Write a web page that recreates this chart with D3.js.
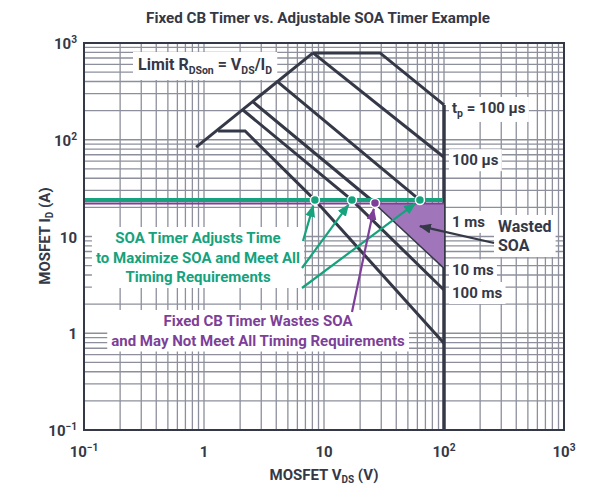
<!DOCTYPE html>
<html><head><meta charset="utf-8">
<script src="https://cdn.jsdelivr.net/npm/d3@7"></script>
<style>
body{margin:0;background:#fff}
svg{display:block}
text{font-family:Roboto,"Noto Sans",sans-serif;font-weight:700}
</style>
</head><body><svg id="c" width="602" height="489"></svg>
<script>
// ---------- data ----------
const xTickValues = [0.1, 1, 10, 100, 1000];
const xTickLabels = [["10","−1"],["1",""],["10",""],["10","2"],["10","3"]];
const yTickValues = [0.1, 1, 10, 100, 1000];
const yTickLabels = [["10","−1"],["1",""],["10",""],["10","2"],["10","3"]];

const rdsonLimit = [[0.86,84],[8.1,790]];
const curveA = [[8.1,790],[29.3,790],[100,229]];          // tp = 100 µs (top)
const curveB = [[8.1,790],[100,66]];                       // 100 µs
const curveC = [[4.14,395],[63,23.8],[100,15.2]];          // 1 ms
const curveD = [[2.56,246],[26.6,22.2],[100,4.8]];         // 10 ms
const curveE = [[2.11,203],[17.1,23.8],[100,2.8]];         // 100 ms
const curveF = [[1.31,123],[2.2,123],[8.4,23.8],[100,0.79]]; // DC
const curveLabels = ["100 µs","1 ms","10 ms","100 ms"];
const vdsMax = 100;
const soaTimerLimit = 23.8;   // green
const cbTimerLimit = 22.2;    // purple
const wastedArrowTarget = [63, 12.8];

// ---------- layout ----------
const svg = d3.select("#c");
const L=84,R=564,T=43,B=430;
const x = d3.scaleLog().domain([0.1,1000]).range([L,R]);
const y = d3.scaleLog().domain([0.1,1000]).range([B,T]);
const dark="#353846", grid="#8d909c", green="#15a27c", purple="#7d3f98", fillP="#a075ba";

// defs
const defs = svg.append("defs");
function marker(id,color){
  defs.append("marker").attr("id",id).attr("markerUnits","userSpaceOnUse")
    .attr("markerWidth",12).attr("markerHeight",10).attr("refX",11).attr("refY",5)
    .attr("orient","auto").append("path").attr("d","M0,0L12,5L0,10Z").attr("fill",color);
}
marker("mg",green); marker("mp",purple); marker("md",dark);

// title
svg.append("text").attr("x",318).attr("y",18).attr("text-anchor","middle")
  .attr("dominant-baseline","central").attr("font-size",15.2).attr("fill",dark)
  .text("Fixed CB Timer vs. Adjustable SOA Timer Example");

// grid
const gridVals=[];
for(let e=-1;e<3;e++) for(let k=1;k<10;k++) gridVals.push(k*Math.pow(10,e));
gridVals.push(1000);
const g = svg.append("g");
g.selectAll(".gx").data(gridVals).enter().append("line")
  .attr("x1",d=>x(d)).attr("x2",d=>x(d)).attr("y1",T).attr("y2",B)
  .attr("stroke",grid).attr("stroke-width",1.3);
g.selectAll(".gy").data(gridVals).enter().append("line")
  .attr("y1",d=>y(d)).attr("y2",d=>y(d)).attr("x1",L).attr("x2",R)
  .attr("stroke",grid).attr("stroke-width",1.3);

const line = d3.line().x(d=>x(d[0])).y(d=>y(d[1]));

// interpolate crossing of a curve with a current level (log space)
function crossing(curve, level){
  for(let i=0;i<curve.length-1;i++){
    const [v1,i1]=curve[i],[v2,i2]=curve[i+1];
    if((i1-level)*(i2-level)<=0 && i1!==i2){
      const t=(Math.log(level)-Math.log(i1))/(Math.log(i2)-Math.log(i1));
      return [Math.exp(Math.log(v1)+t*(Math.log(v2)-Math.log(v1))), level];
    }
  }
  return null;
}

// label layer (white boxes)
const labels = svg.append("g");
function boxed(textSel,pad){
  const bb=textSel.node().getBBox();
  labels.insert("rect",":first-child").attr("x",bb.x-pad[0]).attr("y",bb.y-pad[1])
    .attr("width",bb.width+2*pad[0]).attr("height",bb.height+2*pad[1]).attr("fill","#fff");
}

// curves
const curves=[curveA,curveB,curveC,curveD,curveE,curveF];
svg.append("g").selectAll("path").data(curves).enter().append("path")
  .attr("d",line).attr("fill","none").attr("stroke",dark).attr("stroke-width",3)
  .attr("stroke-linejoin","miter");
svg.append("path").attr("d",line(rdsonLimit)).attr("fill","none").attr("stroke",dark).attr("stroke-width",3);

// vds max vertical
svg.append("line").attr("x1",x(vdsMax)).attr("x2",x(vdsMax)).attr("y1",y(curveA[curveA.length-1][1])).attr("y2",B)
  .attr("stroke",dark).attr("stroke-width",3.5);

// wasted SOA fill
const pStart = crossing(curveD, cbTimerLimit);
const wasted = [pStart,[vdsMax,cbTimerLimit],curveD[curveD.length-1]];
svg.append("path").attr("d",line(wasted)+"Z").attr("fill",fillP);

// timer limit lines
svg.append("line").attr("x1",x(0.1)).attr("x2",x(vdsMax)).attr("y1",y(cbTimerLimit)+0.5).attr("y2",y(cbTimerLimit)+0.5)
  .attr("stroke",purple).attr("stroke-width",2);
svg.append("line").attr("x1",x(0.1)+1).attr("x2",x(vdsMax)-1.5).attr("y1",y(soaTimerLimit)).attr("y2",y(soaTimerLimit))
  .attr("stroke",green).attr("stroke-width",4);

// frame
svg.append("rect").attr("x",L).attr("y",T).attr("width",R-L).attr("height",B-T)
  .attr("fill","none").attr("stroke",dark).attr("stroke-width",2);

// tick labels
function sup(t,parts,fs){
  t.append("tspan").text(parts[0]);
  if(parts[1]) t.append("tspan").attr("font-size",fs*0.68).attr("dy",-fs*0.38).text(parts[1]);
}
xTickValues.forEach((v,i)=>{
  const t=svg.append("text").attr("x",x(v)).attr("y",457).attr("text-anchor","middle")
    .attr("font-size",15).attr("fill",dark);
  sup(t,xTickLabels[i],15);
});
yTickValues.forEach((v,i)=>{
  const t=svg.append("text").attr("x",77).attr("y",y(v)+6).attr("text-anchor","end")
    .attr("font-size",15).attr("fill",dark);
  sup(t,yTickLabels[i],15);
});

// axis titles
{
  const t=svg.append("text").attr("x",324).attr("y",480).attr("text-anchor","middle").attr("font-size",15).attr("fill",dark);
  t.append("tspan").text("MOSFET V");
  t.append("tspan").attr("font-size",10).attr("dy",3).text("DS");
  t.append("tspan").attr("dy",-3).text(" (V)");
  const t2=svg.append("text").attr("transform","translate(50,236) rotate(-90)").attr("text-anchor","middle").attr("font-size",15).attr("fill",dark);
  t2.append("tspan").text("MOSFET I");
  t2.append("tspan").attr("font-size",10).attr("dy",3).text("D");
  t2.append("tspan").attr("dy",-3).text(" (A)");
}

// Limit label
{
  const t=labels.append("text").attr("x",138).attr("y",70).attr("font-size",16).attr("fill",dark);
  t.append("tspan").text("Limit R");
  t.append("tspan").attr("font-size",10.5).attr("dy",4).text("DSon");
  t.append("tspan").attr("dy",-4).text(" = V");
  t.append("tspan").attr("font-size",10.5).attr("dy",4).text("DS");
  t.append("tspan").attr("dy",-4).text("/I");
  t.append("tspan").attr("font-size",10.5).attr("dy",4).text("D");
  boxed(t,[5,3]);
}

// curve labels at right
{
  const ends=[curveA,curveB,curveC,curveD,curveE].map(c=>c[c.length-1]);
  ends.forEach((e,i)=>{
    const t=labels.append("text").attr("x",x(vdsMax)+8).attr("y",y(e[1])+8)
      .attr("font-size",15).attr("fill",dark);
    if(i===0){
      t.append("tspan").text("t");
      t.append("tspan").attr("font-size",10.5).attr("dy",4).text("p");
      t.append("tspan").attr("dy",-4).text(" = 100 µs");
    } else t.text(curveLabels[i-1]);
    boxed(t,[3,2]);
  });
}

// green annotation
{
  const lines=["SOA Timer Adjusts Time","to Maximize SOA and Meet All","Timing Requirements"];
  const t=labels.append("text").attr("text-anchor","middle").attr("font-size",15).attr("fill",green);
  lines.forEach((s,i)=>t.append("tspan").attr("x",198).attr("y",243+i*19.5).text(s));
  boxed(t,[4,2]);
}
// purple annotation
{
  const lines=["Fixed CB Timer Wastes SOA","and May Not Meet All Timing Requirements"];
  const t=labels.append("text").attr("text-anchor","middle").attr("font-size",15).attr("fill",purple);
  lines.forEach((s,i)=>t.append("tspan").attr("x",258).attr("y",326+i*19.5).text(s));
  boxed(t,[4,2]);
}
// wasted SOA
{
  const t=labels.append("text").attr("font-size",16).attr("fill",dark);
  ["Wasted","SOA"].forEach((s,i)=>t.append("tspan").attr("x",498).attr("y",232+i*19).text(s));
  boxed(t,[4,2]);
}

// arrows
function arrow(x1,y1,x2,y2,color,mk,shorten){
  const dx=x2-x1,dy=y2-y1,l=Math.hypot(dx,dy);
  svg.append("line").attr("x1",x1).attr("y1",y1)
    .attr("x2",x2-dx/l*shorten).attr("y2",y2-dy/l*shorten)
    .attr("stroke",color).attr("stroke-width",2.2).attr("marker-end",`url(#${mk})`);
}
const dotF=crossing(curveF,soaTimerLimit), dotE=crossing(curveE,soaTimerLimit), dotC=crossing(curveC,soaTimerLimit);
const dotD=crossing(curveD,cbTimerLimit);
arrow(303,241,x(dotF[0]),y(dotF[1]),green,"mg",6);
arrow(302,268,x(dotE[0]),y(dotE[1]),green,"mg",6);
arrow(302,288,x(dotC[0]),y(dotC[1]),green,"mg",6);
arrow(352,312,x(dotD[0]),y(dotD[1]),purple,"mp",6);
arrow(494,243,x(wastedArrowTarget[0]),y(wastedArrowTarget[1]),dark,"md",0);

// dots
svg.append("g").selectAll("circle").data([dotF,dotE,dotC]).enter().append("circle")
  .attr("cx",d=>x(d[0])).attr("cy",d=>y(d[1])).attr("r",4.5)
  .attr("fill",green).attr("stroke","#fff").attr("stroke-width",1.5);
svg.append("circle").attr("cx",x(dotD[0])).attr("cy",y(dotD[1])).attr("r",4.5)
  .attr("fill",purple).attr("stroke","#fff").attr("stroke-width",1.5);
</script></body></html>
